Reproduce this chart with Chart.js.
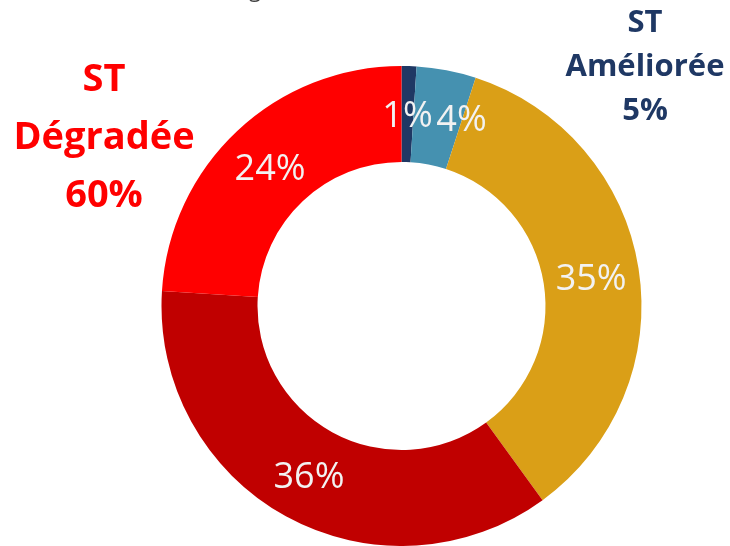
<!DOCTYPE html>
<html>
<head>
<meta charset="utf-8">
<script src="https://cdn.jsdelivr.net/npm/chart.js@4"></script>
<style>
  body { margin: 0; background: #ffffff; }
</style>
</head>
<body>
<canvas id="myChart" width="730" height="546"></canvas>
<script>
var categories = ['ST très améliorée', 'ST améliorée', 'ST stable', 'ST très dégradée', 'ST dégradée'];
var values = [1, 4, 35, 36, 24];
var sliceColors = ['#1f3864', '#4591b0', '#da9f17', '#c00000', '#ff0000'];

var groupDegradee = ['ST', 'Dégradée', '60%'];
var groupAmelioree = ['ST', 'Améliorée', '5%'];

// small nudges for the labels that would overlap at the top
var labelShift = [[0, 3], [24, 3], [0, 4], [0, 3], [0, 4]];

var labelPlugin = {
  id: 'sliceLabels',
  afterDatasetsDraw: function(chart) {
    var c = chart.ctx;
    var meta = chart.getDatasetMeta(0);
    c.save();
    c.font = '36px "Open Sans"';
    c.fillStyle = '#f2f2f2';
    c.textAlign = 'center';
    c.textBaseline = 'middle';
    meta.data.forEach(function(arc, i) {
      var p = arc.tooltipPosition();
      c.fillText(values[i] + '%', p.x + labelShift[i][0], p.y + labelShift[i][1]);
    });

    // group captions
    c.font = 'bold 38px "Open Sans"';
    c.fillStyle = '#ff0000';
    c.textBaseline = 'alphabetic';
    groupDegradee.forEach(function(t, i) {
      c.fillText(t, 104, 91 + i * 58);
    });
    c.font = 'bold 31px "Open Sans"';
    c.fillStyle = '#1f3864';
    groupAmelioree.forEach(function(t, i) {
      c.fillText(t, 645, 32 + i * 44);
    });

    // bottom of the cut-off title
    c.font = '22px "Open Sans"';
    c.fillStyle = '#404040';
    c.fillText('g', 255, -3);
    c.restore();
  }
};

var ctx = document.getElementById('myChart').getContext('2d');
var myChart = new Chart(ctx, {
  type: 'doughnut',
  data: {
    labels: categories,
    datasets: [{
      data: values,
      backgroundColor: sliceColors,
      borderWidth: 0
    }]
  },
  options: {
    responsive: false,
    animation: false,
    cutout: '60%',
    layout: {
      padding: { top: 66, bottom: 0, left: 161, right: 88 }
    },
    plugins: {
      legend: { display: false },
      tooltip: { enabled: false }
    }
  },
  plugins: [labelPlugin]
});
</script>
</body>
</html>
